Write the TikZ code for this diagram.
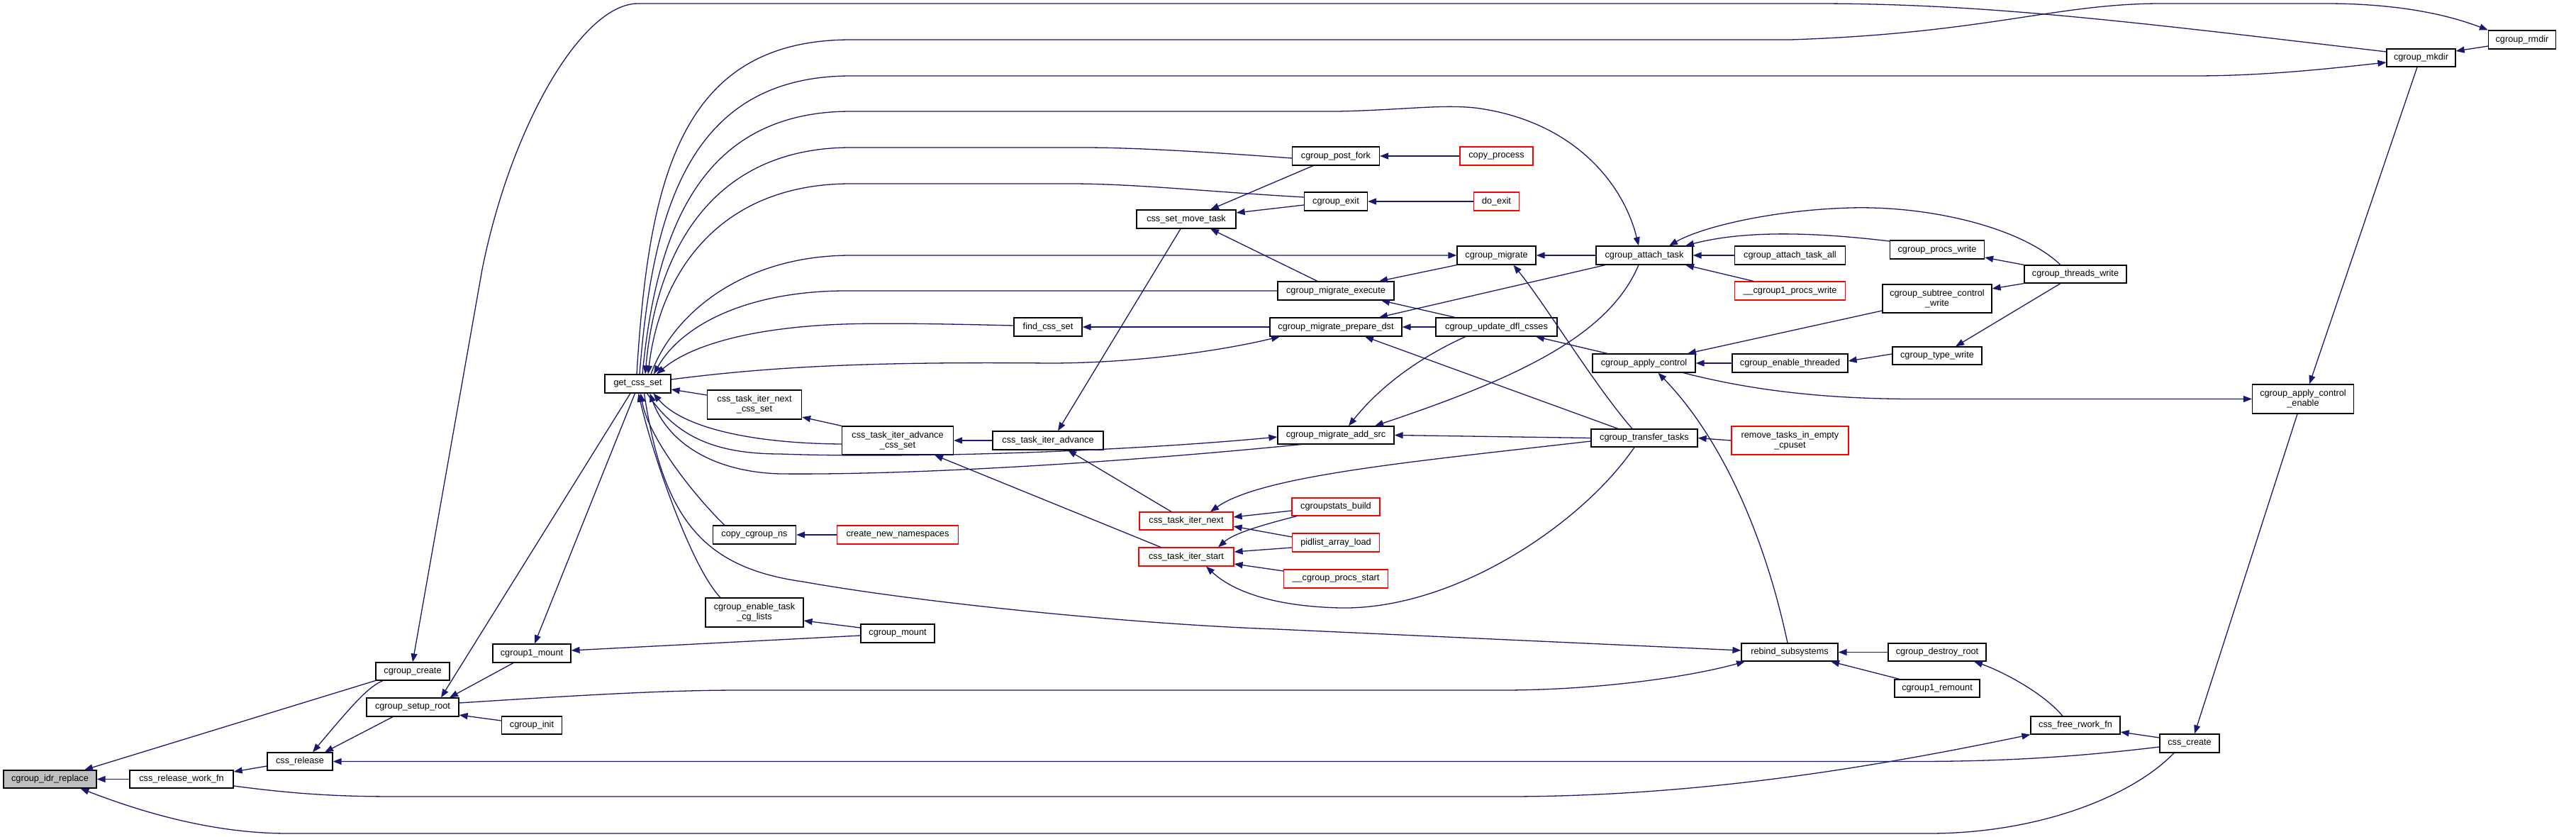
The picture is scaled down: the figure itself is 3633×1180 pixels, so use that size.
\documentclass[tikz,border=0pt]{standalone}
\usepackage{fontspec}
\newfontfamily\dxfont{Liberation Sans}
\usetikzlibrary{arrows.meta}
\definecolor{edgeblue}{HTML}{191970}
\definecolor{rootgray}{HTML}{BFBFBF}
\begin{document}
\begin{tikzpicture}[x=1pt,y=-1pt,
  nd/.style={draw=black, line width=1.2pt, fill=white, inner sep=0pt, align=center,
    font=\dxfont\fontsize{12.7pt}{14.3pt}\selectfont},
  redn/.style={nd, draw=red},
  rootn/.style={nd, fill=rootgray},
  ed/.style={draw=edgeblue, line width=1.3pt, -{Triangle[length=12pt,width=9pt]}}]
\fill[white] (0,0) rectangle (3633,1180);
\useasboundingbox (0,0) rectangle (3633,1180);

% nodes
\node[rootn, minimum width=131pt, minimum height=25pt] (idr) at (70.5,1098.5) {cgroup\_idr\_replace};
\node[nd, minimum width=146pt, minimum height=25pt] (crwf) at (256,1098.5) {css\_release\_work\_fn};
\node[nd, minimum width=92pt, minimum height=25pt] (crel) at (423,1073.5) {css\_release};
\node[nd, minimum width=104pt, minimum height=25pt] (ccreate) at (582,946.5) {cgroup\_create};
\node[nd, minimum width=130pt, minimum height=26pt] (csetup) at (582,997) {cgroup\_setup\_root};
\node[nd, minimum width=110pt, minimum height=26pt] (c1mount) at (750,921) {cgroup1\_mount};
\node[nd, minimum width=85pt, minimum height=25pt] (cinit) at (750,1022.5) {cgroup\_init};
\node[nd, minimum width=93pt, minimum height=26pt] (gcs) at (899.5,541) {get\_css\_set};
\node[nd, minimum width=96pt, minimum height=26pt] (fcs) at (1478,461) {find\_css\_set};
\node[nd, minimum width=133pt, minimum height=41pt] (ctincs) at (1064,570.5) {css\_task\_iter\_next\\\_css\_set};
\node[nd, minimum width=157pt, minimum height=40pt] (ctiacs) at (1266,621) {css\_task\_iter\_advance\\\_css\_set};
\node[nd, minimum width=156pt, minimum height=26pt] (ctia) at (1478,621) {css\_task\_iter\_advance};
\node[nd, minimum width=117pt, minimum height=26pt] (ccns) at (1064,754) {copy\_cgroup\_ns};
\node[redn, minimum width=171pt, minimum height=26pt] (cnn) at (1266,754) {create\_new\_namespaces};
\node[redn, minimum width=132pt, minimum height=25pt] (ctin) at (1673,734.5) {css\_task\_iter\_next};
\node[redn, minimum width=134pt, minimum height=26pt] (ctis) at (1673,785) {css\_task\_iter\_start};
\node[nd, minimum width=138pt, minimum height=41pt] (cetcl) at (1064,863.5) {cgroup\_enable\_task\\\_cg\_lists};
\node[nd, minimum width=104pt, minimum height=26pt] (cmount) at (1266,893) {cgroup\_mount};
\node[nd, minimum width=140pt, minimum height=26pt] (csmt) at (1673,309) {css\_set\_move\_task};
\node[nd, minimum width=123pt, minimum height=26pt] (cpf) at (1884,220) {cgroup\_post\_fork};
\node[redn, minimum width=103pt, minimum height=26pt] (cproc) at (2110.5,220) {copy\_process};
\node[nd, minimum width=89pt, minimum height=26pt] (cexit) at (1884,284) {cgroup\_exit};
\node[redn, minimum width=64pt, minimum height=26pt] (doexit) at (2110.5,284) {do\_exit};
\node[nd, minimum width=111pt, minimum height=26pt] (cmig) at (2110.5,360) {cgroup\_migrate};
\node[nd, minimum width=136pt, minimum height=26pt] (cat) at (2319,360) {cgroup\_attach\_task};
\node[nd, minimum width=156pt, minimum height=26pt] (cata) at (2524.5,360) {cgroup\_attach\_task\_all};
\node[nd, minimum width=133pt, minimum height=26pt] (cpw) at (2732,352) {cgroup\_procs\_write};
\node[redn, minimum width=156pt, minimum height=26pt] (c1pw) at (2524.5,410) {\_\_cgroup1\_procs\_write};
\node[nd, minimum width=95pt, minimum height=26pt] (crmdir) at (3557,56) {cgroup\_rmdir};
\node[nd, minimum width=97pt, minimum height=25pt] (cmkdir) at (3414.5,81.5) {cgroup\_mkdir};
\node[nd, minimum width=144pt, minimum height=25pt] (ctw) at (2927,386.5) {cgroup\_threads\_write};
\node[nd, minimum width=164pt, minimum height=26pt] (cme) at (1884,410) {cgroup\_migrate\_execute};
\node[nd, minimum width=186pt, minimum height=26pt] (cmpd) at (1884,461) {cgroup\_migrate\_prepare\_dst};
\node[nd, minimum width=171pt, minimum height=26pt] (cudc) at (2110.5,461) {cgroup\_update\_dfl\_csses};
\node[nd, minimum width=145pt, minimum height=26pt] (cac) at (2318.5,512) {cgroup\_apply\_control};
\node[nd, minimum width=163pt, minimum height=26pt] (cet) at (2524.5,512) {cgroup\_enable\_threaded};
\node[nd, minimum width=154pt, minimum height=40pt] (cscw) at (2732,421) {cgroup\_subtree\_control\\\_write};
\node[nd, minimum width=126pt, minimum height=25pt] (ctyw) at (2732,501.5) {cgroup\_type\_write};
\node[nd, minimum width=164pt, minimum height=25pt] (cmas) at (1884,613.5) {cgroup\_migrate\_add\_src};
\node[nd, minimum width=150pt, minimum height=25pt] (ctt) at (2319,617.5) {cgroup\_transfer\_tasks};
\node[redn, minimum width=165pt, minimum height=40pt] (rtiec) at (2524.5,621) {remove\_tasks\_in\_empty\\\_cpuset};
\node[redn, minimum width=124pt, minimum height=25pt] (csb) at (1884,714.5) {cgroupstats\_build};
\node[redn, minimum width=123pt, minimum height=26pt] (pal) at (1884,765) {pidlist\_array\_load};
\node[nd, minimum width=143pt, minimum height=41pt] (acace) at (3248,562.5) {cgroup\_apply\_control\\\_enable};
\node[redn, minimum width=147pt, minimum height=26pt] (cps) at (1884,816) {\_\_cgroup\_procs\_start};
\node[nd, minimum width=136pt, minimum height=25pt] (rbs) at (2524,919.5) {rebind\_subsystems};
\node[nd, minimum width=138pt, minimum height=25pt] (cdr) at (2732,919.5) {cgroup\_destroy\_root};
\node[nd, minimum width=120pt, minimum height=25pt] (c1rm) at (2732,970.5) {cgroup1\_remount};
\node[nd, minimum width=126pt, minimum height=25pt] (cfrw) at (2927,1022.5) {css\_free\_rwork\_fn};
\node[nd, minimum width=84pt, minimum height=26pt] (ccr) at (3088,1048) {css\_create};

% edges (caller -> callee, arrow at callee)
\draw[ed] (crwf.west) -- (idr.east);
\draw[ed] (ccreate.south west) -- ([xshift=48.5pt]idr.north);
\draw[ed] ([xshift=-22pt]ccr.south) .. controls (3010,1120) and (2880,1175) .. (2720,1175) -- (406,1175) .. controls (300,1175) and (200,1145) .. ([xshift=43pt]idr.south);
\draw[ed] ([yshift=-6.5pt]crel.west) -- ([yshift=10.5pt]crwf.east);
\draw[ed] ([xshift=-42pt]ccreate.south) .. controls (520,968) and (500,990) .. ([xshift=18pt]crel.north);
\draw[ed] ([xshift=-28pt]csetup.south) -- ([xshift=35pt]crel.north);
\draw[ed] ([yshift=-5pt]ccr.west) .. controls (2920,1068) and (2820,1073.5) .. (2700,1073.5) -- (crel.east);
\draw[ed] ([yshift=6.5pt]cinit.west) -- ([yshift=-11pt]csetup.east);
\draw[ed] ([xshift=-26pt]c1mount.south) -- ([xshift=52pt]csetup.north);
\draw[ed] ([xshift=-10.5pt]gcs.south) -- ([xshift=40pt]csetup.north);
\draw[ed] ([xshift=-4pt]gcs.south) -- ([xshift=4pt]c1mount.north);
\draw[ed] ([yshift=-3pt]cmount.west) -- ([yshift=4pt]c1mount.east);
\draw[ed] ([yshift=8pt]cmount.west) -- ([yshift=-11.5pt]cetcl.east);
\draw[ed] ([xshift=-48pt]cetcl.north) .. controls (975,800) and (920,640) .. ([xshift=1pt]gcs.south);
\draw[ed] ([xshift=-42pt]ccns.north) .. controls (985,705) and (915,620) .. ([xshift=4pt]gcs.south);
\draw[ed] (cnn.west) -- (ccns.east);
\draw[ed] ([xshift=9pt]gcs.south) .. controls (935,730) and (990,800) .. (1132,820) .. controls (1300,850) and (1600,880) .. (1800,887) -- ([yshift=2.5pt]rbs.west);
\draw[ed] ([yshift=6pt]csetup.east) .. controls (850,978) and (950,973) .. (1045,973) -- (2119,973) .. controls (2250,973) and (2380,955) .. ([xshift=-63pt]rbs.south);
\draw[ed] (cdr.west) -- (rbs.east);
\draw[ed] ([xshift=-53pt]c1rm.north) -- ([xshift=58pt]rbs.south);
\draw[ed] ([xshift=-3pt]rbs.north) .. controls (2490,760) and (2430,620) .. ([xshift=20pt]cac.south);
\draw[ed] ([xshift=-18pt]cfrw.north) .. controls (2880,975) and (2820,945) .. ([xshift=52pt]cdr.south);
\draw[ed] ([yshift=8pt]ccr.west) -- ([yshift=-9.5pt]cfrw.east);
\draw[ed] ([yshift=-9.5pt]crwf.east) .. controls (420,1120) and (480,1123) .. (560,1123) -- (2125,1123) .. controls (2400,1123) and (2650,1080) .. (cfrw.south west);
\draw[ed] ([xshift=-8pt]acace.south) -- ([xshift=7pt]ccr.north);
\draw[ed] ([xshift=-5.5pt]cmkdir.south) -- ([xshift=9pt]acace.north);
\draw[ed] ([yshift=8.5pt]cmkdir.west) .. controls (3000,30) and (2800,5) .. (2560,5) -- (900,5) .. controls (820,5) and (720,180) .. (680,380) -- (ccreate.north);
\draw[ed] ([xshift=-1.5pt]gcs.north) .. controls (915,250) and (960,56) .. (1200,56) -- (2525,56) .. controls (2800,47) and (2900,5) .. (3048,5) -- (3280,5) .. controls (3380,5) and (3450,20) .. (crmdir.north west);
\draw[ed] ([xshift=2.5pt]gcs.north) .. controls (920,300) and (970,107) .. (1200,107) -- (3095,107) .. controls (3200,107) and (3300,95) .. ([yshift=-6.5pt]cmkdir.west);
\draw[ed] ([xshift=6.5pt]gcs.north) .. controls (925,330) and (985,157) .. (1200,157) -- (1887,157) .. controls (1980,155) and (2030,147) .. (2080,152) .. controls (2220,170) and (2290,260) .. ([xshift=-8pt]cat.north);
\draw[ed] ([yshift=-3pt]cpf.west) .. controls (1700,214) and (1600,208) .. (1527,208) -- (1200,208) .. controls (1000,208) and (925,360) .. ([xshift=10.5pt]gcs.north);
\draw[ed] ([yshift=6pt]cexit.west) .. controls (1700,270) and (1600,259) .. (1509,259) -- (1200,259) .. controls (1010,259) and (930,390) .. ([xshift=14.5pt]gcs.north);
\draw[ed] ([xshift=18.5pt]gcs.north) .. controls (950,440) and (1050,360) .. (1200,360) -- (cmig.west);
\draw[ed] (cme.west) -- (1190,410) .. controls (1050,411) and (960,460) .. ([xshift=22.5pt]gcs.north);
\draw[ed] ([yshift=2pt]fcs.west) .. controls (1350,457) and (1250,455) .. (1190,457) .. controls (1050,462) and (970,490) .. ([xshift=26.5pt]gcs.north);
\draw[ed] (cmpd.west) -- (fcs.east);
\draw[ed] ([yshift=6pt]gcs.east) .. controls (1100,515) and (1250,510) .. (1480,512) .. controls (1600,512) and (1720,495) .. ([xshift=-79pt]cmpd.south);
\draw[ed] ([xshift=-55pt]cat.south) -- ([xshift=61pt]cmpd.north);
\draw[ed] (cudc.west) -- (cmpd.east);
\draw[ed] ([xshift=-37pt]ctt.north) -- ([xshift=41pt]cmpd.south);
\draw[ed] ([xshift=-58.5pt]cudc.north) -- ([xshift=64pt]cme.south);
\draw[ed] (cmig.south west) -- ([xshift=61pt]cme.north);
\draw[ed] ([xshift=-26pt]cme.north) -- ([xshift=34pt]csmt.south);
\draw[ed] ([xshift=-32pt]cpf.south) -- ([xshift=34pt]csmt.north);
\draw[ed] ([yshift=-5pt]cexit.west) -- ([yshift=9pt]csmt.east);
\draw[ed] (cproc.west) -- (cpf.east);
\draw[ed] (doexit.west) -- (cexit.east);
\draw[ed] (cat.west) -- (cmig.east);
\draw[ed] (cata.west) -- (cat.east);
\draw[ed] ([yshift=12pt]cpw.west) .. controls (2580,330) and (2470,322) .. ([xshift=58pt]cat.north);
\draw[ed] ([xshift=-21pt]ctw.north) .. controls (2850,320) and (2720,290) .. (2610,293) .. controls (2500,296) and (2400,320) .. ([xshift=35pt]cat.north);
\draw[ed] ([xshift=-51.5pt]c1pw.north) -- ([xshift=58pt]cat.south);
\draw[ed] (ctw.north west) -- ([yshift=-11pt]cpw.east);
\draw[ed] (ctw.south west) -- ([yshift=14pt]cscw.east);
\draw[ed] ([xshift=-21pt]ctw.south) -- ([xshift=26pt]ctyw.north);
\draw[ed] ([yshift=-17pt]cscw.west) -- ([xshift=61.5pt]cac.north);
\draw[ed] (cet.west) -- (cac.east);
\draw[ed] ([yshift=2.5pt]ctyw.west) -- ([yshift=3pt]cet.east);
\draw[ed] ([xshift=-51.5pt]cac.north) -- ([xshift=55.5pt]cudc.south);
\draw[ed] ([xshift=55.5pt]cac.south) .. controls (2450,545) and (2550,562.5) .. (2700,562.5) -- (acace.west);
\draw[ed] ([xshift=-43.5pt]cudc.south) .. controls (2010,500) and (1950,540) .. ([xshift=18pt]cmas.north);
\draw[ed] ([xshift=-8pt]cat.south) .. controls (2270,470) and (2150,530) .. ([xshift=55pt]cmas.north);
\draw[ed] ([xshift=-17pt]ctt.north) .. controls (2250,545) and (2180,430) .. ([xshift=24pt]cmig.south);
\draw[ed] (ctt.west) -- (cmas.east);
\draw[ed] (rtiec.west) -- (ctt.east);
\draw[ed] ([xshift=13pt]gcs.south) .. controls (950,610) and (1000,640) .. (1100,640) .. controls (1300,647) and (1600,635) .. ([yshift=-2.5pt]cmas.west);
\draw[ed] ([xshift=-49pt]cmas.south) .. controls (1600,650) and (1300,670) .. (1100,668) .. controls (1000,665) and (940,620) .. ([xshift=17pt]gcs.south);
\draw[ed] ([yshift=13.5pt]ctincs.west) -- ([yshift=-8pt]gcs.east);
\draw[ed] (ctiacs.north west) -- ([yshift=-17.5pt]ctincs.east);
\draw[ed] ([yshift=-5pt]ctiacs.west) .. controls (1050,625) and (960,600) .. ([xshift=22pt]gcs.south);
\draw[ed] (ctia.west) -- (ctiacs.east);
\draw[ed] ([xshift=-8pt]csmt.south) -- ([xshift=14pt]ctia.north);
\draw[ed] ([xshift=-21pt]ctin.north) -- ([xshift=28pt]ctia.south);
\draw[ed] ([xshift=-36pt]ctis.north) -- ([xshift=52pt]ctiacs.south);
\draw[ed] ([yshift=-4.5pt]ctt.west) .. controls (2000,650) and (1780,670) .. ([xshift=34pt]ctin.north);
\draw[ed] ([yshift=-5.5pt]csb.west) -- ([yshift=5.5pt]ctin.east);
\draw[ed] ([xshift=-55pt]csb.south) .. controls (1780,740) and (1740,752) .. ([xshift=45pt]ctis.north);
\draw[ed] ([yshift=8pt]pal.west) -- ([yshift=-7.5pt]ctin.east);
\draw[ed] ([yshift=-7pt]pal.west) -- ([yshift=7pt]ctis.east);
\draw[ed] ([yshift=11pt]cps.west) -- ([yshift=-10pt]ctis.east);
\draw[ed] ([xshift=-14pt]ctt.south) .. controls (2230,740) and (2050,860) .. (1890,857) .. controls (1800,855) and (1740,835) .. ([xshift=28pt]ctis.south);
\draw[ed] ([yshift=-9pt]crmdir.west) -- ([yshift=9.5pt]cmkdir.east);
\end{tikzpicture}
\end{document}
